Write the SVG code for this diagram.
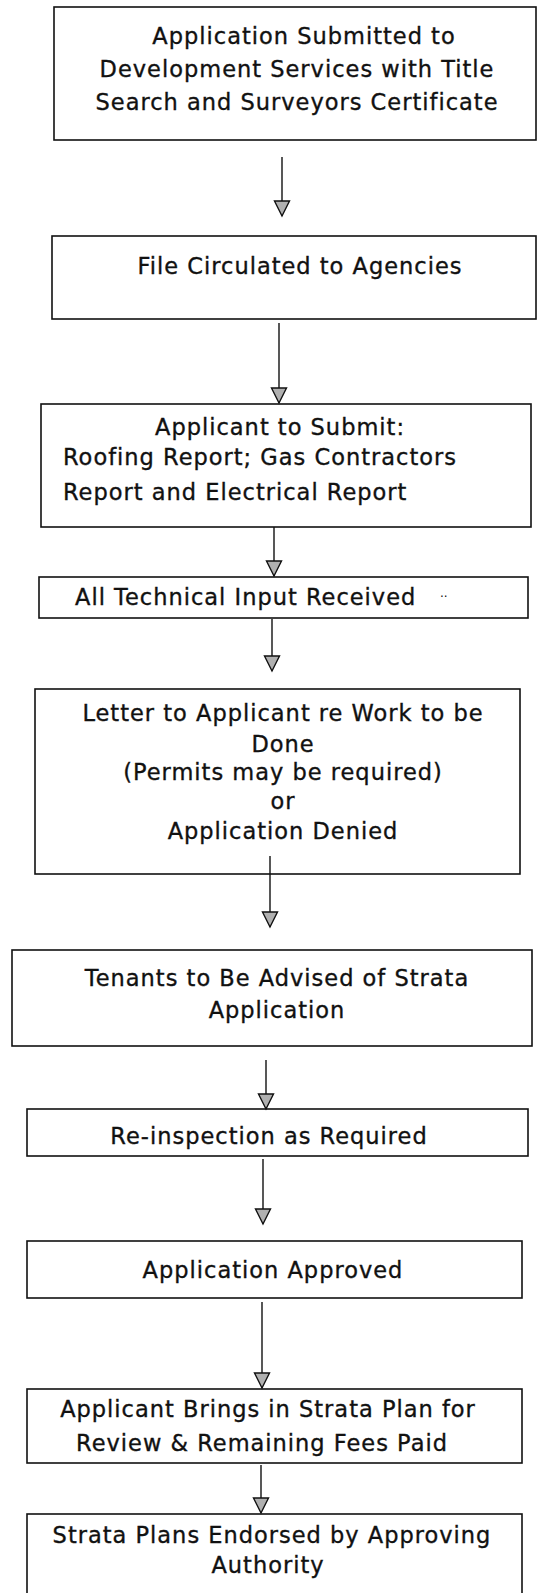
<svg xmlns="http://www.w3.org/2000/svg" width="538" height="1593" viewBox="0 0 538 1593">
<style>
.box{fill:#fff;stroke:#111;stroke-width:1.6}
.t{font-family:"DejaVu Sans",sans-serif;font-size:22.5px;letter-spacing:1px;fill:#111;stroke:#111;stroke-width:0.35;text-anchor:middle}
.l{text-anchor:start}
.c{stroke:#111;stroke-width:1.4;fill:none}
</style>
<defs>
<marker id="ah" markerUnits="userSpaceOnUse" markerWidth="20" markerHeight="20" viewBox="0 0 20 20" refX="17" refY="10" orient="auto">
<polygon points="2,2.5 2,17.5 17,10" fill="#b0b0b0" stroke="#111" stroke-width="1.4" stroke-linejoin="miter"/>
</marker>
</defs>
<rect width="538" height="1593" fill="#fff"/>
<g id="n1">
<rect class="box" x="54" y="7" width="482" height="133"/>
<text class="t" x="304" y="44">Application Submitted to</text>
<text class="t" x="297" y="77">Development Services with Title</text>
<text class="t" x="297" y="110">Search and Surveyors Certificate</text>
</g>
<g id="n2">
<rect class="box" x="52" y="236" width="484" height="83"/>
<text class="t" x="300" y="274">File Circulated to Agencies</text>
</g>
<g id="n3">
<rect class="box" x="41" y="404" width="490" height="123"/>
<text class="t" x="280" y="435">Applicant to Submit:</text>
<text class="t l" x="63" y="465">Roofing Report; Gas Contractors</text>
<text class="t l" x="63" y="500">Report and Electrical Report</text>
</g>
<g id="n4">
<rect class="box" x="39" y="577" width="489" height="41"/>
<text class="t l" x="75" y="605">All Technical Input Received</text>
<text class="t l" x="440" y="597" style="font-size:12px;letter-spacing:0;stroke-width:0">..</text>
</g>
<g id="n5">
<rect class="box" x="35" y="689" width="485" height="185"/>
<text class="t" x="283" y="721">Letter to Applicant re Work to be</text>
<text class="t" x="283" y="752">Done</text>
<text class="t" x="283" y="780">(Permits may be required)</text>
<text class="t" x="283" y="809">or</text>
<text class="t" x="283" y="839">Application Denied</text>
</g>
<g id="n6">
<rect class="box" x="12" y="950" width="520" height="96"/>
<text class="t" x="277" y="986">Tenants to Be Advised of Strata</text>
<text class="t" x="277" y="1018">Application</text>
</g>
<g id="n7">
<rect class="box" x="27" y="1109" width="501" height="47"/>
<text class="t" x="269" y="1144">Re-inspection as Required</text>
</g>
<g id="n8">
<rect class="box" x="27" y="1241" width="495" height="57"/>
<text class="t" x="273" y="1278">Application Approved</text>
</g>
<g id="n9">
<rect class="box" x="27" y="1389" width="495" height="74"/>
<text class="t" x="268" y="1417">Applicant Brings in Strata Plan for</text>
<text class="t" x="262" y="1451">Review &amp; Remaining Fees Paid</text>
</g>
<g id="n10">
<rect class="box" x="27" y="1514" width="495" height="100"/>
<text class="t" x="272" y="1543">Strata Plans Endorsed by Approving</text>
<text class="t" x="268" y="1573">Authority</text>
</g>
<g id="connectors">
<line class="c" x1="282" y1="157" x2="282" y2="216" marker-end="url(#ah)"/>
<line class="c" x1="279" y1="323" x2="279" y2="403" marker-end="url(#ah)"/>
<line class="c" x1="274" y1="527" x2="274" y2="576" marker-end="url(#ah)"/>
<line class="c" x1="272" y1="619" x2="272" y2="671" marker-end="url(#ah)"/>
<line class="c" x1="270" y1="856" x2="270" y2="927" marker-end="url(#ah)"/>
<line class="c" x1="266" y1="1060" x2="266" y2="1109" marker-end="url(#ah)"/>
<line class="c" x1="263" y1="1159" x2="263" y2="1224" marker-end="url(#ah)"/>
<line class="c" x1="262" y1="1302" x2="262" y2="1388" marker-end="url(#ah)"/>
<line class="c" x1="261" y1="1465" x2="261" y2="1513" marker-end="url(#ah)"/>
</g>
</svg>
